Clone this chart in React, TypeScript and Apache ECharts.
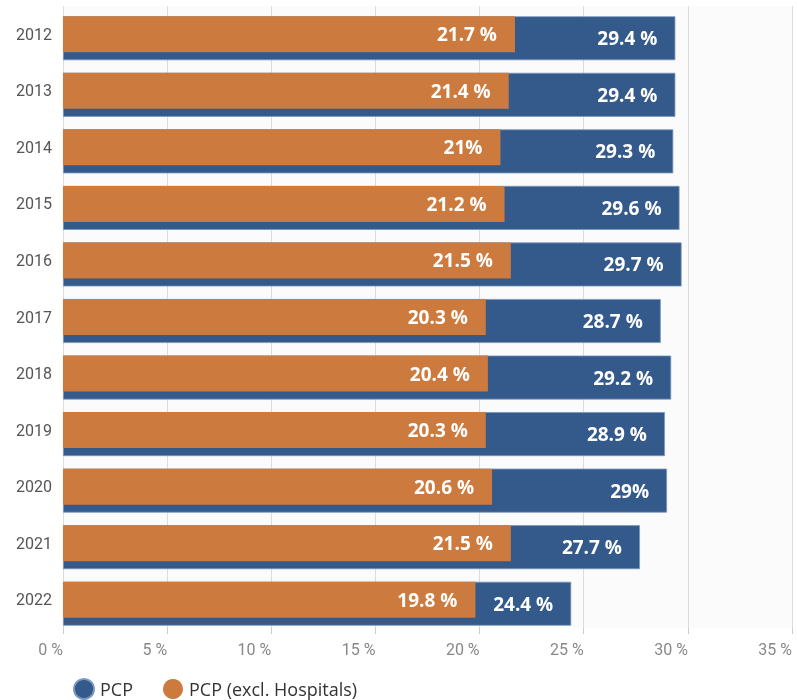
import React, { useEffect, useRef } from "react";
import * as echarts from "echarts";

const years = ["2012", "2013", "2014", "2015", "2016", "2017", "2018", "2019", "2020", "2021", "2022"];
const pcp = [29.4, 29.4, 29.3, 29.6, 29.7, 28.7, 29.2, 28.9, 29, 27.7, 24.4];
const pcpExcl = [21.7, 21.4, 21, 21.2, 21.5, 20.3, 20.4, 20.3, 20.6, 21.5, 19.8];
const seriesNames = ["PCP", "PCP (excl. Hospitals)"];

const fmt = (v: number) => (Number.isInteger(v) ? `${v}%` : `${v} %`);

export default function App() {
  const ref = useRef<HTMLDivElement>(null);
  useEffect(() => {
    if (!ref.current) return;
    const chart = echarts.init(ref.current, null, { renderer: "svg" });
    const labelCfg = {
      show: true,
      position: "insideRight",
      distance: 18,
      color: "#ffffff",
      fontFamily: "Open Sans",
      fontWeight: "bold",
      fontSize: 19,
      formatter: (p: any) => fmt(p.value),
    };
    chart.setOption({
      animation: false,
      textStyle: { fontFamily: "Roboto" },
      grid: {
        left: 63,
        right: 5,
        top: 6,
        bottom: 72,
        outerBoundsMode: "none",
        containLabel: false,
        show: true,
        backgroundColor: "#fbfbfb",
        borderWidth: 0,
      },
      legend: {
        left: 68,
        bottom: -5,
        icon: "circle",
        itemWidth: 22,
        itemHeight: 20,
        itemGap: 30,
        textStyle: { fontSize: 18, color: "#333", fontFamily: "Open Sans" },
        data: seriesNames,
      },
      xAxis: {
        type: "value",
        min: 0,
        max: 35,
        interval: 5,
        axisLine: { show: false },
        axisTick: { show: true, length: 6, lineStyle: { color: "#cccccc" } },
        splitLine: { show: true, lineStyle: { color: "#dcdcdc", width: 1 } },
        axisLabel: {
          color: "#888888",
          fontSize: 16,
          margin: 13,
          align: "right",
          formatter: (v: number) => `${v} %`,
        },
      },
      yAxis: {
        type: "category",
        inverse: true,
        data: years,
        axisLine: { show: false },
        axisTick: { show: false },
        axisLabel: { color: "#555555", fontSize: 16, margin: 11 },
      },
      series: [
        {
          name: seriesNames[0],
          type: "bar",
          data: pcp,
          barWidth: 44,
          barGap: "-100%",
          itemStyle: { color: "#34598b", borderColor: "#7a98c0", borderWidth: 0.8 },
          label: labelCfg,
          z: 2,
        },
        {
          name: seriesNames[1],
          type: "bar",
          data: pcpExcl,
          barWidth: 36,
          itemStyle: { color: "#cc7a3d" },
          label: labelCfg,
          z: 3,
        },
      ],
    });
    return () => chart.dispose();
  }, []);
  return (
    <div
      ref={ref}
      style={{ position: "fixed", left: 0, top: 0, width: 797, height: 700 }}
    />
  );
}
